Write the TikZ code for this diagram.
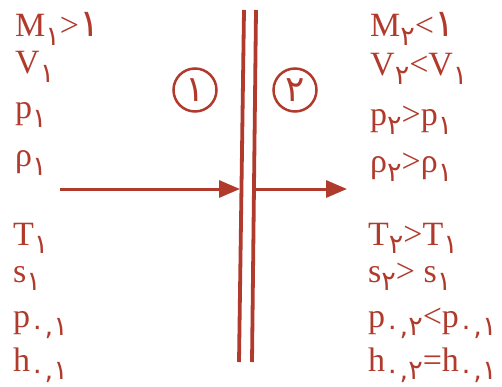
\documentclass[tikz,border=0pt]{standalone}
\usepackage{fontspec}
\setmainfont{Liberation Serif}
\newfontfamily\pd[Script=Arabic]{DejaVu Sans}
\usetikzlibrary{arrows.meta,positioning}
\definecolor{shockred}{RGB}{176,58,44}
\newcommand{\fa}[1]{{\fontsize{38}{38}\selectfont\pd #1}}
\newcommand{\psub}[1]{\raisebox{-0.55ex}{\fontsize{27}{27}\selectfont\pd #1}}
\tikzset{
  prop/.style   ={anchor=base west, inner sep=0pt, text=shockred,
                  font=\fontsize{34}{36}\selectfont},
  region/.style ={draw=shockred, circle, minimum size=43pt, inner sep=0pt,
                  line width=2.5pt, text=shockred,
                  font=\fontsize{36}{36}\selectfont\pd},
  wall/.style   ={draw=shockred, line width=3.8pt},
  flow/.style   ={-{Triangle[length=21pt, width=17pt]}, draw=shockred,
                  line width=3pt},
}
\begin{document}
\begin{tikzpicture}[x=1pt, y=-1pt]
\useasboundingbox (0,0) rectangle (502,387);
% shock wave (double line)
\coordinate (wlt) at (244,10);
\coordinate (wlb) at (239,362);
\coordinate (wrt) at (256,10);
\coordinate (wrb) at (252,362);
\draw[wall] (wlt) -- (wlb);
\draw[wall] (wrt) -- (wrb);
% flow direction
\coordinate (fin) at (60,189);
\coordinate (fl) at (240,189);
\coordinate (fr) at (254,189);
\coordinate (fout) at (347,189);
\draw[flow] (fin) -- (fl);
\draw[flow] (fr) -- (fout);
% regions
\node[region] (reg1) at (195,90) {۱};
\node[region] (reg2) at (295,90) {۲};
% upstream state
\node[prop] (m1) at (15,37)  {M\psub{۱}>\fa{۱}};
\node[prop] (v1) at (15,74)  {V\psub{۱}};
\node[prop] (p1) at (15,119) {p\psub{۱}};
\node[prop] (r1) at (15,167) {ρ\psub{۱}};
\node[prop] (t1) at (13,245) {T\psub{۱}};
\node[prop] (s1) at (13,282) {s\psub{۱}};
\node[prop] (q1) at (13,327) {p\psub{۰,۱}};
\node[prop] (h1) at (13,371) {h\psub{۰,۱}};
% downstream state
\node[prop] (m2) at (370,37)  {M\psub{۲}<\fa{۱}};
\node[prop] (v2) at (370,76)  {V\psub{۲}<V\psub{۱}};
\node[prop] (p2) at (370,126) {p\psub{۲}>p\psub{۱}};
\node[prop] (r2) at (370,173) {ρ\psub{۲}>ρ\psub{۱}};
\node[prop] (t2) at (368,245) {T\psub{۲}>T\psub{۱}};
\node[prop] (s2) at (368,282) {s\psub{۲}> s\psub{۱}};
\node[prop] (q2) at (368,327) {p\psub{۰,۲}<p\psub{۰,۱}};
\node[prop] (h2) at (368,371) {h\psub{۰,۲}=h\psub{۰,۱}};
\end{tikzpicture}
\end{document}
